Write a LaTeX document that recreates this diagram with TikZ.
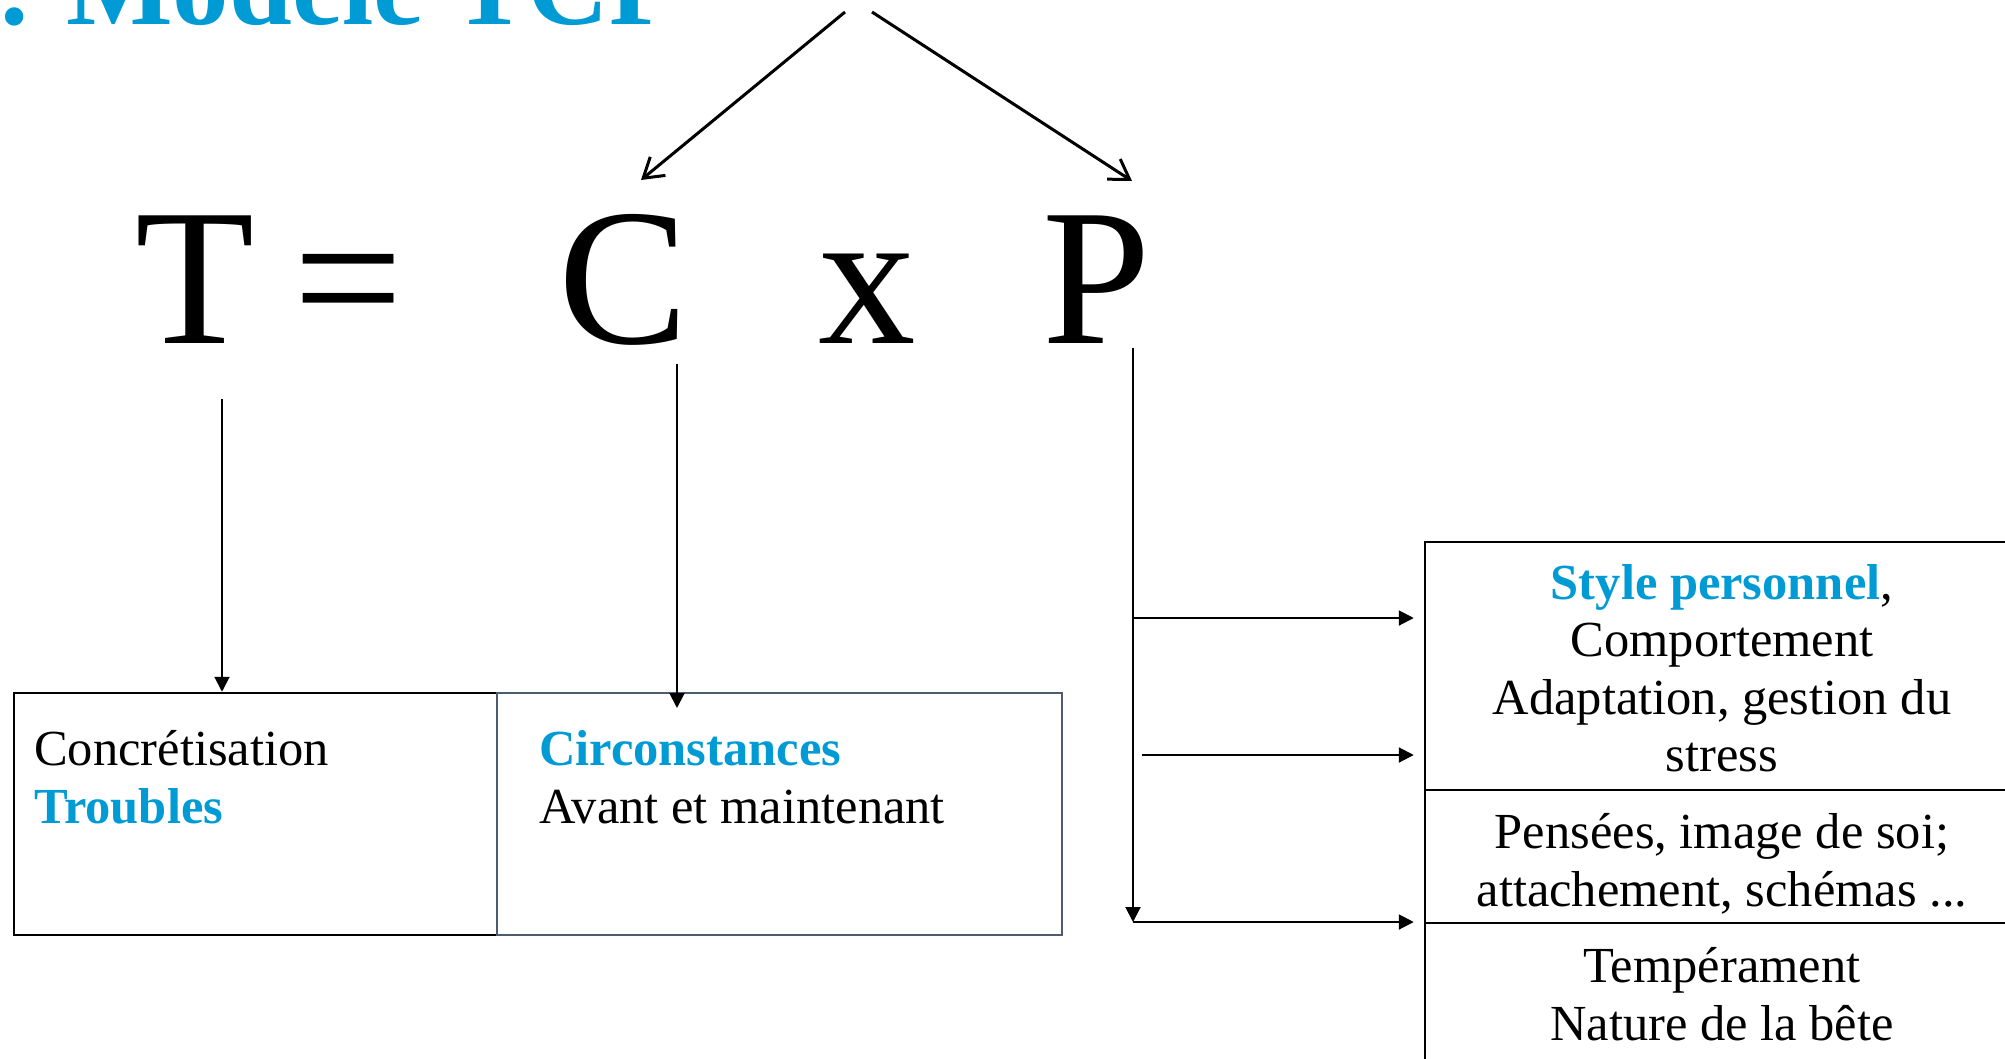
\documentclass[tikz,border=0pt]{standalone}
\usepackage{fontspec}
\setmainfont{Liberation Serif}
\usetikzlibrary{arrows.meta,calc}
\definecolor{tblue}{RGB}{0,155,213}
\definecolor{slate}{RGB}{78,92,112}
\begin{document}
\begin{tikzpicture}[x=1pt,y=-1pt,
  txt/.style={font=\fontsize{50.5}{57.5}\selectfont, inner sep=0pt},
  eqn/.style={font=\fontsize{195}{200}\selectfont, inner sep=0pt, anchor=base},
  box/.style={draw, line width=2.5pt, inner sep=0pt},
  con/.style={line width=2pt, -{Triangle[length=15pt,width=15pt]}},
  openarr/.style={line width=3pt, -{Straight Barb[length=19pt,width=24pt]}}]
\useasboundingbox (0,0) rectangle (2005,1058);
\clip (0,0) rectangle (2005,1058);

% title (cut off at the top)
\node[font=\fontsize{113}{120}\selectfont\bfseries, text=tblue, inner sep=0pt, anchor=base west] (title) at (0,24) {. Modèle TCP};

% equation
\node[eqn] (T) at (195,343) {T};
\node[eqn] (eq) at (348,343) {=};
\node[eqn] (C) at (624,343) {C};
\node[eqn] (X) at (867,343) {x};
\node[eqn] (P) at (1097,343) {P};

% boxes
\node[box, minimum width=483pt, minimum height=242pt] (concr) at (255.5,814) {};
\node[box, draw=slate, minimum width=565pt, minimum height=242pt] (circ) at (779.5,814) {};
\node[box, minimum width=594pt, minimum height=248pt] (style) at (1722,666) {};
\node[box, minimum width=594pt, minimum height=133pt] (pens) at (1722,856.5) {};
\node[box, minimum width=594pt, minimum height=180pt] (temp) at (1722,1013) {};

% texts (base anchor = baseline of the last line)
\node[txt, anchor=base west, align=left] (concrtxt) at (34,823) {Concrétisation\\\textbf{\color{tblue}Troubles}};
\node[txt, anchor=base west, align=left] (circtxt) at (539,823) {\textbf{\color{tblue}Circonstances}\\Avant et maintenant};
\node[txt, anchor=base, align=center] (styletxt) at (1722,771.5) {\textbf{\color{tblue}Style personnel},\\Comportement\\Adaptation, gestion du\\stress};
\node[txt, anchor=base, align=center] (penstxt) at (1722,906) {Pensées, image de soi;\\attachement, schémas ...};
\node[txt, anchor=base, align=center] (temptxt) at (1722,1040) {Tempérament\\Nature de la bête};

% top arrows
\coordinate (top1) at (845,12);
\coordinate (top2) at (872,12);
\coordinate (cend) at (641,180);
\coordinate (pend) at (1132,181);
\draw[openarr] (top1) -- (cend);
\draw[openarr] (top2) -- (pend);

% down arrows
\coordinate (ta) at (222,399);
\draw[con] (ta) -- (ta |- concr.north);
\coordinate (ca) at (677,364);
\coordinate (cb) at (677,708);
\draw[con] (ca) -- (cb);
\coordinate (pa) at (1133,348);
\coordinate (pb) at (1133,922);
\draw[con] (pa) -- (pb);

% horizontal arrows
\coordinate (h1) at (1133,618);
\coordinate (h2) at (1142,755);
\coordinate (h3) at (1133,922);
\draw[con] (h1) -- ($(h1 -| style.west)+(-10,0)$);
\draw[con] (h2) -- ($(h2 -| style.west)+(-10,0)$);
\draw[con] (h3) -- ($(h3 -| style.west)+(-10,0)$);
\end{tikzpicture}
\end{document}
